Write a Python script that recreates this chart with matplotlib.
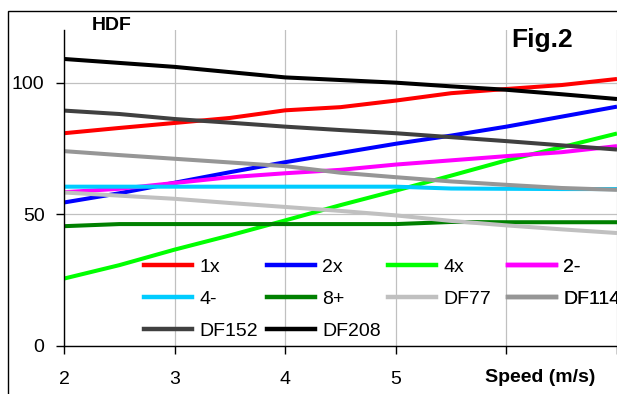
import numpy as np
import matplotlib.pyplot as plt
from matplotlib.patches import Rectangle
from matplotlib.lines import Line2D

plt.rcParams['font.family'] = ['Liberation Sans', 'DejaVu Sans']

# Speed points (m/s)
speed = [2, 2.5, 3, 3.5, 4, 4.5, 5, 5.5, 6, 6.5, 7]

# HDF values per series
hdf_1x = [80.8, 82.8, 84.7, 86.6, 89.5, 90.7, 93.2, 96.0, 97.6, 99.1, 101.4]
hdf_2x = [54.5, 58.0, 62.0, 66.0, 69.8, 73.3, 76.8, 79.9, 83.3, 87.1, 90.9]
hdf_4x = [25.6, 30.7, 36.6, 42.0, 47.7, 53.5, 59.0, 64.7, 70.5, 75.5, 80.7]
hdf_2m = [58.4, 59.7, 61.9, 64.1, 65.6, 66.9, 68.9, 70.5, 72.1, 73.6, 75.9]
hdf_4m = [60.5, 60.5, 60.5, 60.5, 60.5, 60.5, 60.5, 59.8, 59.7, 59.6, 59.6]
hdf_8p = [45.5, 46.3, 46.3, 46.3, 46.3, 46.3, 46.3, 47.1, 47.0, 47.0, 47.0]
hdf_df77 = [58.3, 57.1, 55.9, 54.3, 52.8, 51.3, 49.6, 47.5, 45.8, 44.3, 42.9]
hdf_df114 = [74.0, 72.5, 71.1, 69.7, 68.3, 65.8, 64.1, 62.5, 61.2, 60.0, 59.3]
hdf_df152 = [89.4, 88.1, 86.2, 84.8, 83.3, 82.0, 80.8, 79.3, 77.8, 76.2, 74.6]
hdf_df208 = [109.0, 107.5, 106.0, 104.0, 102.0, 101.0, 100.0, 98.6, 97.3, 95.6, 93.8]

labels = ['1x', '2x', '4x', '2-', '4-', '8+', 'DF77', 'DF114', 'DF152', 'DF208']
series = [hdf_1x, hdf_2x, hdf_4x, hdf_2m, hdf_4m, hdf_8p,
          hdf_df77, hdf_df114, hdf_df152, hdf_df208]
colors = ['#ff0000', '#0000ff', '#00ff00', '#ff00ff', '#00ccff', '#008000',
          '#c0c0c0', '#969696', '#404040', '#000000']

fig = plt.figure(figsize=(6.17, 3.94), dpi=100)
ax = fig.add_axes([64 / 617, 1 - 346 / 394, 1 - 64 / 617, (346 - 30) / 394])

for vals, col, lab in zip(series, colors, labels):
    ax.plot(speed, vals, color=col, lw=2.9, label=lab, solid_capstyle='butt')

ax.set_xlim(2, 7)
ax.set_ylim(0, 120)
ax.set_xticks([2, 3, 4, 5, 6, 7])
ax.set_xticklabels(['2', '3', '4', '5', '', ''])
ax.set_yticks([0, 50, 100])
ax.grid(True, color='#c0c0c0', lw=0.9)
ax.set_axisbelow(True)
for s in ['top', 'right']:
    ax.spines[s].set_visible(False)
ax.spines['left'].set_linewidth(1.0)
ax.spines['bottom'].set_linewidth(1.0)
ax.tick_params(direction='out', length=6, width=1, labelsize=14, pad=8)
ax.tick_params(axis='x', pad=12)

# legend laid out row by row, one legend per column
cols_x = [144, 267, 388, 508]
for c in range(4):
    idx = [c + 4 * r for r in range(3) if c + 4 * r < len(labels)]
    handles = [Line2D([], [], color=colors[i], lw=3.2) for i in idx]
    leg = ax.legend(handles, [labels[i] for i in idx], loc='upper left',
                    bbox_to_anchor=(cols_x[c] / 617, 1 - 258 / 394),
                    bbox_transform=fig.transFigure, frameon=False,
                    fontsize=14, borderpad=0, borderaxespad=0,
                    handlelength=2.45, handletextpad=0.4, labelspacing=0.74)
    ax.add_artist(leg)

fig.text(112 / 617, 1 - 25 / 394, 'HDF', fontsize=14, fontweight='bold',
         ha='center', va='center')
fig.text(511 / 617, 1 - 47 / 394, 'Fig.2', fontsize=19, fontweight='bold',
         ha='left', va='baseline')
fig.text(540 / 617, 1 - 377 / 394, 'Speed (m/s)', fontsize=14,
         fontweight='bold', ha='center', va='center')

fig.patches.append(Rectangle((8 / 617, -0.2), 1.5, 1 - 10.5 / 394 + 0.2,
                             transform=fig.transFigure, fill=False,
                             edgecolor='black', lw=1))

fig.savefig('out.png', dpi=100)
